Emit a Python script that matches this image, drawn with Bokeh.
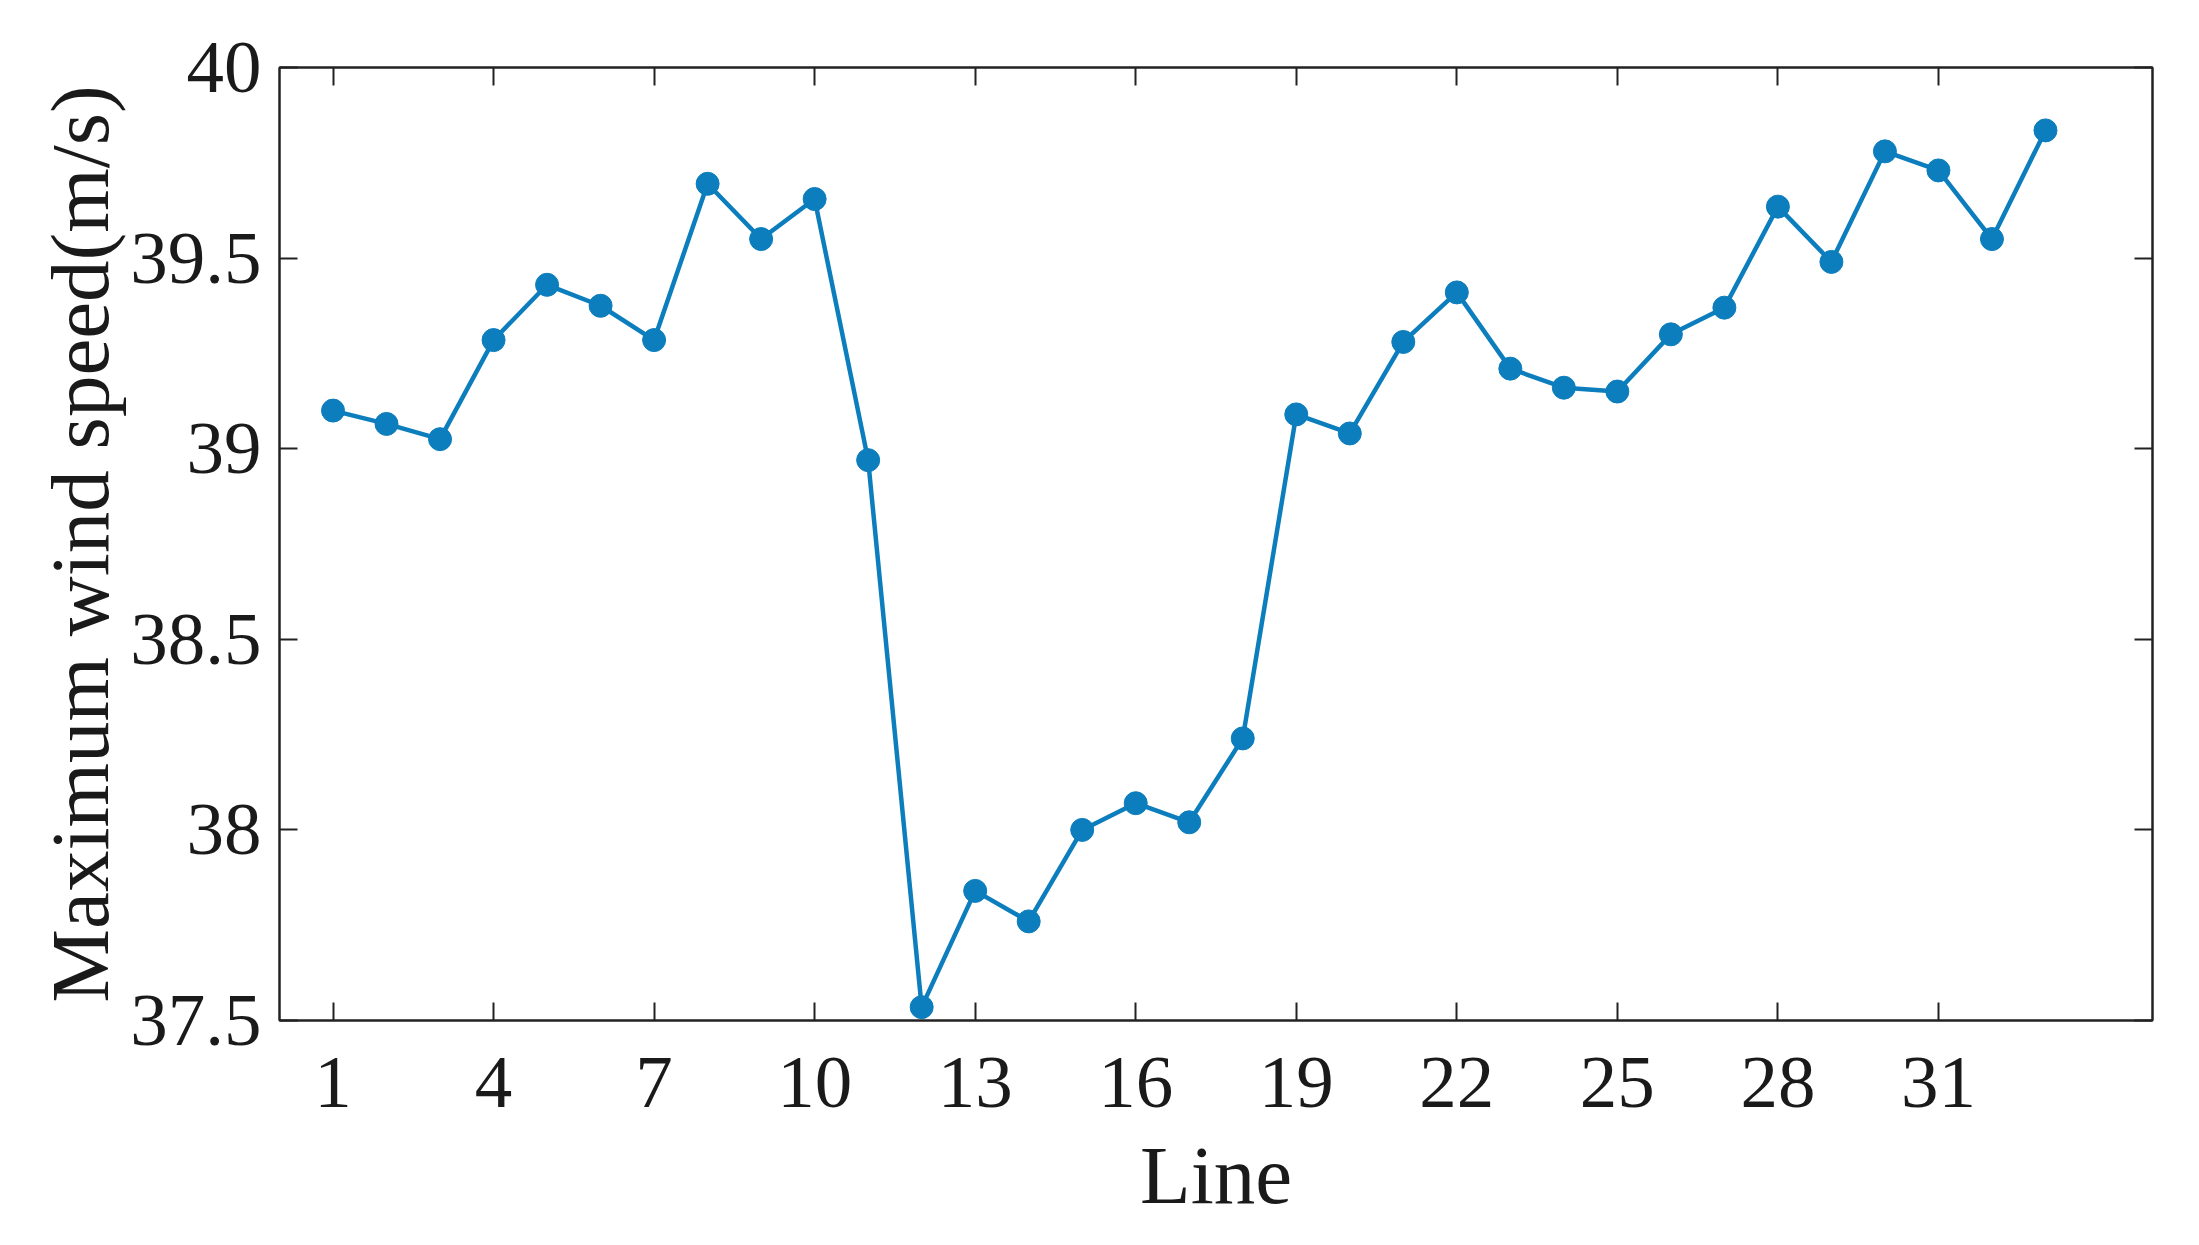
from bokeh.plotting import figure
from bokeh.models import LinearAxis, FixedTicker, Range1d
from bokeh.embed import file_html
from bokeh.resources import INLINE

lines = list(range(1, 34))
max_wind = [39.10, 39.065, 39.025, 39.285, 39.43, 39.375, 39.285, 39.695, 39.55, 39.655,
            38.97, 37.535, 37.84, 37.76, 38.00, 38.07, 38.02, 38.24, 39.09, 39.04,
            39.28, 39.41, 39.21, 39.16, 39.15, 39.30, 39.37, 39.635, 39.49, 39.78,
            39.73, 39.55, 39.835]
x_ticks = [1, 4, 7, 10, 13, 16, 19, 22, 25, 28, 31]
y_ticks = [37.5, 38, 38.5, 39, 39.5, 40]

FONT = "Liberation Serif"
COLOR = "#0C7EBD"

p = figure(width=2183, height=1229, output_backend="svg", toolbar_location=None,
           x_range=Range1d(0, 35), y_range=Range1d(37.5, 40),
           min_border_left=279, min_border_right=31, min_border_top=67, min_border_bottom=209)
p.grid.visible = False
p.outline_line_color = "#222222"
p.outline_line_width = 2
p.background_fill_color = "white"
p.border_fill_color = "white"

p.line(lines, max_wind, line_color=COLOR, line_width=4.5)
p.scatter(lines, max_wind, size=23, fill_color=COLOR, line_color=COLOR)

def style(ax, ticks, show_labels):
    ax.ticker = FixedTicker(ticks=ticks)
    ax.major_tick_in = 18
    ax.major_tick_out = 0
    ax.minor_tick_in = 0
    ax.minor_tick_out = 0
    ax.major_tick_line_color = "#222222"
    ax.major_tick_line_width = 2
    ax.axis_line_color = "#222222"
    ax.axis_line_width = 2
    if show_labels:
        ax.major_label_text_font = FONT
        ax.major_label_text_font_size = "75px"
        ax.major_label_text_color = "#1a1a1a"
        ax.axis_label_text_font = FONT
        ax.axis_label_text_font_size = "83px"
        ax.axis_label_text_font_style = "normal"
        ax.axis_label_text_color = "#1a1a1a"
    else:
        ax.major_label_text_font_size = "0px"
        ax.major_label_text_color = None

xa = p.xaxis[0]
style(xa, x_ticks, True)
xa.axis_label = "Line"
xa.major_label_standoff = 37
xa.axis_label_standoff = 19

ya = p.yaxis[0]
style(ya, y_ticks, True)
ya.axis_label = "Maximum wind speed(m/s)"
ya.major_label_standoff = 18
ya.axis_label_standoff = 1
ya.formatter.use_scientific = False

top = LinearAxis()
style(top, x_ticks, False)
p.add_layout(top, "above")
right = LinearAxis()
style(right, y_ticks, False)
p.add_layout(right, "right")

open("out.html", "w").write(file_html(p, INLINE))
